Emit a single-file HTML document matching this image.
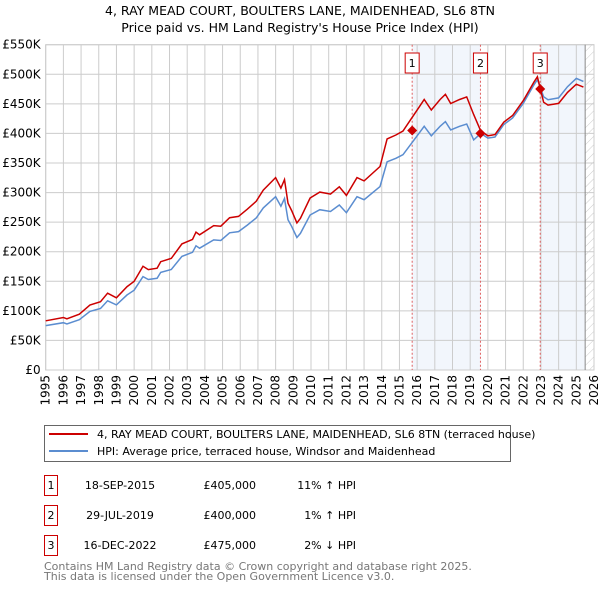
<!DOCTYPE html>
<html><head><meta charset="utf-8"><style>
body{margin:0;background:#fff;width:600px;height:590px;overflow:hidden}
svg{font-family:"DejaVu Sans","Liberation Sans",sans-serif}
</style></head><body>
<svg id="chart" width="600" height="590" xmlns="http://www.w3.org/2000/svg">
<defs><pattern id="hatch" width="6" height="6" patternUnits="userSpaceOnUse" patternTransform="rotate(45)"><line x1="0" y1="0" x2="0" y2="6" stroke="#ccc" stroke-width="1"/></pattern></defs>
<text x="300" y="15" text-anchor="middle" font-size="12.5" fill="#000">4, RAY MEAD COURT, BOULTERS LANE, MAIDENHEAD, SL6 8TN</text>
<text x="300" y="32" text-anchor="middle" font-size="12.5" fill="#000">Price paid vs. HM Land Registry's House Price Index (HPI)</text>
<g id="plot"></g>
<g id="legend">
<rect x="44.5" y="425.5" width="466" height="36" fill="#fff" stroke="#666"/>
<line x1="49" y1="434" x2="88" y2="434" stroke="#cc0000" stroke-width="2"/>
<text x="97" y="438" font-size="11" fill="#000">4, RAY MEAD COURT, BOULTERS LANE, MAIDENHEAD, SL6 8TN (terraced house)</text>
<line x1="49" y1="451" x2="88" y2="451" stroke="#5b8dd0" stroke-width="2"/>
<text x="97" y="455" font-size="11" fill="#000">HPI: Average price, terraced house, Windsor and Maidenhead</text>
</g>
<g id="table" font-size="11" fill="#000"></g>
<text x="44" y="570" font-size="11" fill="#777">Contains HM Land Registry data © Crown copyright and database right 2025.</text>
<text x="44" y="580" font-size="11" fill="#777">This data is licensed under the Open Government Licence v3.0.</text>
</svg>
<script>
const hpiYears=[1995.0,1996.0,1996.2,1996.9,1997.5,1998.1,1998.5,1999.0,1999.6,2000.0,2000.5,2000.8,2001.3,2001.5,2002.1,2002.7,2003.3,2003.5,2003.7,2004.5,2004.9,2005.4,2005.9,2006.4,2006.9,2007.3,2008.0,2008.3,2008.5,2008.7,2008.9,2009.2,2009.4,2009.95,2010.5,2011.1,2011.6,2012.0,2012.6,2013.0,2013.9,2014.3,2014.8,2015.2,2015.7,2016.1,2016.4,2016.8,2017.3,2017.6,2017.9,2018.4,2018.8,2019.2,2019.6,2020.0,2020.4,2020.9,2021.4,2022.0,2022.6,2022.8,2023.15,2023.4,2024.0,2024.5,2025.0,2025.4];
const hpiValues=[75,80,78,85,99,104,117,110,127,135,158,153,155,165,170,192,199,210,206,220,219,232,234,245,257,274,293,277,290,254,243,224,231,262,271,268,279,266,293,288,310,352,358,364,384,400,412,396,412,420,406,412,416,389,400,392,394,415,426,451,482,491,462,457,460,479,493,488];
const saleDates=[2015.72,2019.58,2022.96];
const salePrices=[405,400,475];
const saleLabels=["1","2","3"];
const saleDateText=["18-SEP-2015","29-JUL-2019","16-DEC-2022"];
const salePriceText=["£405,000","£400,000","£475,000"];
const saleHpiText=["11% ↑ HPI","1% ↑ HPI","2% ↓ HPI"];
const segmentFactors=[1.11,1.01,0.98];
const yTicks=[0,50,100,150,200,250,300,350,400,450,500,550];
const yTickLabels=["£0","£50K","£100K","£150K","£200K","£250K","£300K","£350K","£400K","£450K","£500K","£550K"];
const xTicks=[1995,1996,1997,1998,1999,2000,2001,2002,2003,2004,2005,2006,2007,2008,2009,2010,2011,2012,2013,2014,2015,2016,2017,2018,2019,2020,2021,2022,2023,2024,2025,2026];

const NS="http://www.w3.org/2000/svg";
const L=45.7,R=594,T=44.7,B=370,X0=1995,X1=2026,YM=550;
const xs=y=>L+(y-X0)/(X1-X0)*(R-L);
const ys=v=>B-v/YM*(B-T);
function mk(tag,at,parent){const e=document.createElementNS(NS,tag);for(const k in at)e.setAttribute(k,at[k]);parent.appendChild(e);return e;}
const g=document.getElementById('plot');
mk('rect',{x:xs(saleDates[0]),y:T,width:xs(saleDates[1])-xs(saleDates[0]),height:B-T,fill:'#edf2fb',opacity:0.7},g);
mk('rect',{x:xs(saleDates[2]),y:T,width:xs(2025.5)-xs(saleDates[2]),height:B-T,fill:'#edf2fb',opacity:0.7},g);
const h=mk('rect',{x:xs(2025.5),y:T,width:R-xs(2025.5),height:B-T,fill:'url(#hatch)'},g);

yTicks.forEach((v,i)=>{
 const ln=mk('line',{x1:L,x2:R,y1:ys(v),y2:ys(v),stroke:'#ccc','stroke-width':1},g);
 
 const t=mk('text',{x:L-5,y:ys(v)+4,'text-anchor':'end','font-size':12,fill:'#000'},g);
 t.textContent=yTickLabels[i];
 
 
});
xTicks.forEach(y=>{
 const ln=mk('line',{x1:xs(y),x2:xs(y),y1:T,y2:B,stroke:'#ccc','stroke-width':1},g);
 
 const t=mk('text',{x:0,y:0,'text-anchor':'end','font-size':12,fill:'#000',transform:`translate(${xs(y)+4},${B+5}) rotate(-90)`},g);
 t.textContent=y;
 
 
});
mk('rect',{x:L,y:T,width:R-L,height:B-T,fill:'none',stroke:'#ccc'},g);
mk('line',{x1:xs(2025.5),x2:xs(2025.5),y1:T,y2:B,stroke:'#888'},g);
saleDates.forEach(d=>{
 const ln=mk('line',{x1:xs(d),x2:xs(d),y1:T,y2:B,stroke:'#e06060','stroke-width':1,'stroke-dasharray':'2,2'},g);
 
});
function factor(y){return y<saleDates[1]?segmentFactors[0]:(y<saleDates[2]?segmentFactors[1]:segmentFactors[2]);}
const hp=hpiYears.map((y,i)=>`${xs(y).toFixed(1)},${ys(hpiValues[i]).toFixed(1)}`).join(' ');
const redPts=[];
hpiYears.forEach((y,i)=>{redPts.push([y,hpiValues[i]*factor(y)]);});
const rp=redPts.map(p=>`${xs(p[0]).toFixed(1)},${ys(p[1]).toFixed(1)}`).join(' ');
const bl=mk('polyline',{points:hp,fill:'none',stroke:'#5b8dd0','stroke-width':1.5},g);


const rl=mk('polyline',{points:rp,fill:'none',stroke:'#cc0000','stroke-width':1.5},g);


saleDates.forEach((d,i)=>{
 const cx=xs(d),cy=ys(salePrices[i]);
 const p=mk('polygon',{points:`${cx},${cy-5} ${cx+5},${cy} ${cx},${cy+5} ${cx-5},${cy}`,fill:'#cc0000'},g);
 
 
 const b=mk('rect',{x:cx-7,y:53,width:14,height:20,fill:'#fff',stroke:'#cc0000'},g);
 
 const t=mk('text',{x:cx,y:67,'text-anchor':'middle','font-size':11,fill:'#000'},g);
 t.textContent=saleLabels[i];
 
});
const tb=document.getElementById('table');
saleDates.forEach((d,i)=>{
 const y0=475+i*30;
 const b=mk('rect',{x:44.5,y:y0+0.5,width:13,height:20,fill:'none',stroke:'#cc0000'},tb);
 
 const cells=[[51,saleLabels[i],'middle'],[120,saleDateText[i],'middle'],[256,salePriceText[i],'end'],[356,saleHpiText[i],'end']];
 cells.forEach(c=>{
  const t=mk('text',{x:c[0],y:y0+14,'text-anchor':c[2],'font-size':11,fill:'#000'},tb);
  t.textContent=c[1];
  
  
 });
});
</script>
</body></html>
